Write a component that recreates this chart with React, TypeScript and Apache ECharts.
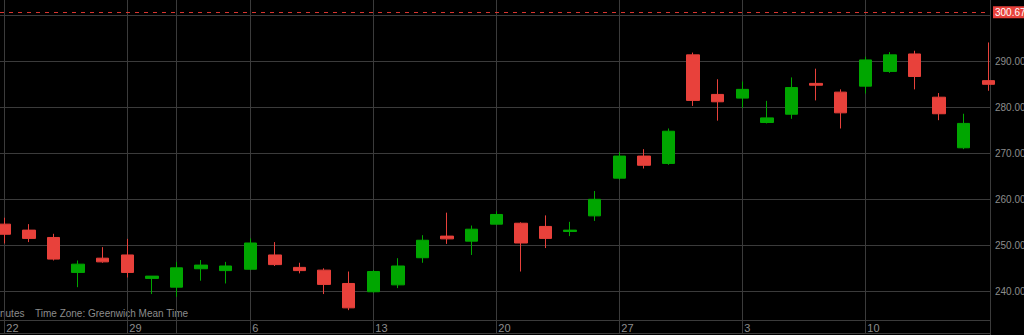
import React, { useEffect, useRef } from 'react';
import * as echarts from 'echarts';

// Trading days (day of month), one candle each
const days = [22, 23, 24, 25, 26, 29, 30, 1, 2, 3, 6, 7, 8, 9, 10, 13, 14, 15, 16, 17, 20, 21, 22, 23, 24, 27, 28, 29, 30, 31, 3, 4, 5, 6, 7, 10, 11, 12, 13, 14, 17];
const opens = [254.6, 253.3, 251.7, 244.1, 247.2, 247.9, 242.8, 240.9, 244.9, 244.5, 244.8, 247.9, 245.2, 244.6, 241.7, 239.9, 241.4, 247.3, 252.0, 250.9, 254.6, 254.8, 254.1, 253.0, 256.4, 264.6, 269.4, 267.8, 291.4, 282.8, 282.0, 276.7, 278.5, 285.2, 283.3, 284.6, 287.8, 291.6, 282.2, 271.2, 285.8];
const closes = [252.4, 251.5, 247.0, 245.9, 246.4, 244.1, 243.3, 245.1, 245.7, 245.5, 250.5, 245.8, 244.5, 241.5, 236.4, 244.3, 245.5, 251.1, 251.4, 253.5, 256.7, 250.5, 251.5, 253.3, 260.0, 269.4, 267.4, 274.8, 281.5, 281.2, 283.9, 277.7, 284.3, 284.8, 278.8, 290.3, 291.4, 286.7, 278.6, 276.5, 285.0];
const lows = [250.4, 250.7, 246.7, 240.9, 246.2, 243.0, 239.4, 238.8, 242.3, 241.7, 244.6, 245.5, 243.9, 239.4, 235.9, 239.7, 240.7, 246.2, 250.3, 247.9, 254.5, 244.3, 249.4, 252.0, 255.3, 264.3, 266.7, 267.5, 280.3, 277.1, 279.9, 276.5, 277.5, 281.5, 275.4, 283.0, 287.5, 283.9, 277.2, 270.9, 283.6];
const highs = [256.0, 254.6, 252.5, 246.7, 249.6, 251.4, 243.3, 246.4, 246.8, 246.4, 251.5, 250.7, 246.2, 245.0, 244.3, 244.6, 247.2, 252.2, 257.1, 254.3, 257.4, 255.0, 256.5, 255.1, 261.8, 270.3, 270.9, 275.4, 291.9, 286.1, 285.6, 281.4, 286.5, 288.4, 283.9, 291.0, 292.0, 292.3, 283.1, 278.6, 294.1];

const weekStarts = [0, 5, 10, 15, 20, 25, 30, 35];
const gridCandles = [0, 5, 7, 10, 15, 20, 25, 30, 35];
const priceTicks = [240, 250, 260, 270, 280, 290, 300];
const priceLabels = [240, 250, 260, 270, 280, 290];
const lastPrice = 300.67;
const footerPeriod = 'nutes';
const footerZone = 'Time Zone: Greenwich Mean Time';

const FONT = '"Liberation Sans", Arial, sans-serif';
const GRID = '#3b3b3b';
const TEXT = '#8c8c8c';
const UP = '#00a600';
const DOWN = '#e8413b';

export default function App() {
  const ref = useRef<HTMLDivElement>(null);

  useEffect(() => {
    if (!ref.current) return;
    const chart = echarts.init(ref.current, undefined, { renderer: 'svg' });
    const data = days.map((_, i) => [i, opens[i], closes[i], lows[i], highs[i]]);
    chart.setOption({
      animation: false,
      backgroundColor: '#000',
      grid: { left: 0, right: 34, top: 0, bottom: 15, containLabel: false, outerBoundsMode: 'none' },
      xAxis: {
        type: 'value',
        min: -0.175,
        max: 40.07,
        axisLine: { show: true, lineStyle: { color: GRID, width: 1 } },
        axisTick: {
          show: true,
          inside: false,
          length: 13,
          customValues: gridCandles,
          lineStyle: { color: GRID, width: 1 },
        },
        axisLabel: {
          customValues: weekStarts,
          formatter: (v: number) => String(days[Math.round(v)]),
          color: TEXT,
          fontSize: 11,
          fontFamily: FONT,
          align: 'left',
          margin: 2,
          padding: [0, 0, 0, 2],
        },
        splitLine: { show: true, lineStyle: { color: GRID, width: 1 } },
      },
      yAxis: {
        type: 'value',
        position: 'right',
        min: 233.76,
        max: 303.33,
        axisLine: { show: true, lineStyle: { color: GRID, width: 1 } },
        axisTick: { show: false, customValues: priceTicks },
        axisLabel: {
          customValues: priceLabels,
          formatter: (v: number) => v.toFixed(2),
          color: TEXT,
          fontSize: 10,
          fontFamily: FONT,
          margin: 5,
        },
        splitLine: { show: true, lineStyle: { color: GRID, width: 1 } },
      },
      series: [
        {
          type: 'candlestick',
          data,
          encode: { x: 0, y: [1, 2, 3, 4] },
          barWidth: 13,
          itemStyle: {
            color: UP,
            color0: DOWN,
            borderColor: UP,
            borderColor0: DOWN,
            borderWidth: 1,
          },
          markLine: {
            silent: true,
            symbol: ['none', 'none'],
            data: [{ yAxis: lastPrice }],
            lineStyle: { color: '#d9352f', type: [4, 5], width: 1 },
            label: {
              show: true,
              position: 'end',
              distance: 3,
              formatter: lastPrice.toFixed(2),
              backgroundColor: DOWN,
              color: '#fff',
              fontSize: 10,
              fontFamily: FONT,
              padding: [1, 2, 1, 2],
            },
          },
        },
      ],
      graphic: [
        { type: 'line', shape: { x1: 0, y1: 333.5, x2: 990, y2: 333.5 }, style: { stroke: GRID, lineWidth: 1 }, silent: true },
        { type: 'line', shape: { x1: 990.5, y1: 0, x2: 990.5, y2: 335 }, style: { stroke: GRID, lineWidth: 1 }, silent: true },
        { type: 'text', x: 0, y: 313, style: { text: footerPeriod, fill: TEXT, font: `10px ${FONT}`, verticalAlign: 'middle' }, silent: true },
        { type: 'text', x: 35, y: 313, style: { text: footerZone, fill: TEXT, font: `10px ${FONT}`, verticalAlign: 'middle' }, silent: true },
      ],
    });
    return () => chart.dispose();
  }, []);

  return (
    <div
      ref={ref}
      style={{ position: 'fixed', left: 0, top: 0, width: 1024, height: 335, background: '#000' }}
    />
  );
}
